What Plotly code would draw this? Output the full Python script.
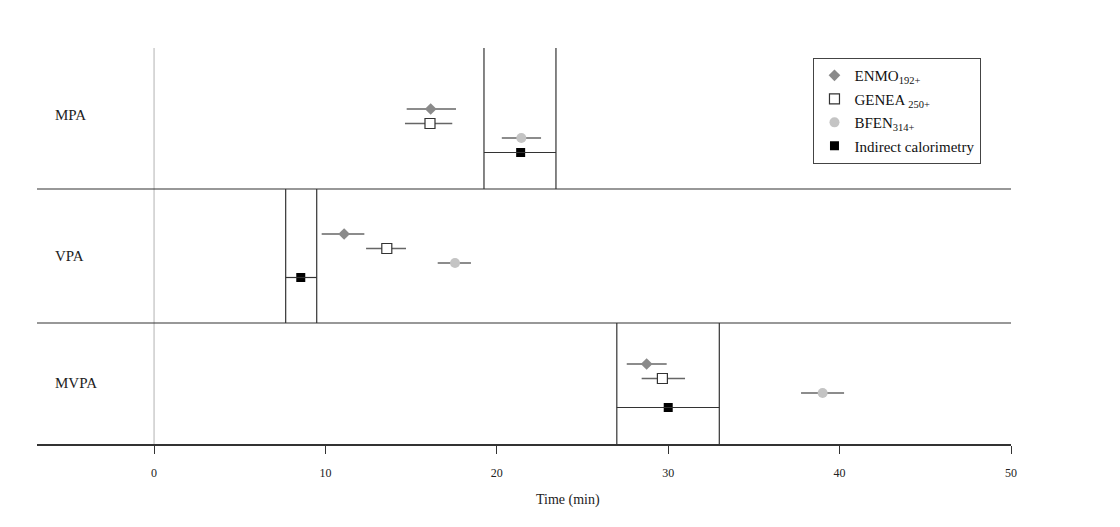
import plotly.graph_objects as go

# ---- data ----
groups = ["MPA", "VPA", "MVPA"]
series = ["ENMO<sub>192+</sub>", "GENEA <sub>250+</sub>", "BFEN<sub>314+</sub>"]
enmo_mean = [16.14, 11.09, 28.74]
enmo_lo = [14.74, 9.78, 27.58]
enmo_hi = [17.62, 12.27, 29.91]
genea_mean = [16.10, 13.58, 29.66]
genea_lo = [14.64, 12.37, 28.45]
genea_hi = [17.40, 14.70, 30.98]
bfen_mean = [21.43, 17.56, 39.01]
bfen_lo = [20.29, 16.55, 37.75]
bfen_hi = [22.58, 18.49, 40.26]
ic_mean = [21.39, 8.56, 30.0]
ic_lo = [19.25, 7.68, 27.0]
ic_hi = [23.45, 9.49, 32.98]
x_ticks = [0, 10, 20, 30, 40, 50]
x_title = "Time (min)"

# ---- layout helpers (vertical positions, top=0) ----
band_edges = [0, 141, 275, 396]
first_row = [61, 186, 316]
step = 14.5
label_y = [67, 208, 335]

FONT = "Liberation Serif, Times New Roman, serif"
fig = go.Figure()

def add_series(name, mean, lo, hi, k, marker):
    ys = [first_row[i] + k * step for i in range(3)]
    fig.add_trace(go.Scatter(
        x=mean, y=ys, mode="markers", name=name, legendgroup=name,
        marker=marker,
        error_x=dict(type="data", symmetric=False,
                     array=[h - m for h, m in zip(hi, mean)],
                     arrayminus=[m - l for m, l in zip(mean, lo)],
                     color="#666666", thickness=1.5, width=0),
    ))

add_series(series[0], enmo_mean, enmo_lo, enmo_hi, 0,
           dict(symbol="diamond", size=9, color="#8a8a8a", line=dict(width=0)))
add_series(series[1], genea_mean, genea_lo, genea_hi, 1,
           dict(symbol="square", size=10, color="white", line=dict(color="#333333", width=1.2)))
add_series(series[2], bfen_mean, bfen_lo, bfen_hi, 2,
           dict(symbol="circle", size=10, color="#c4c4c4", line=dict(width=0)))

# indirect calorimetry boxes
for i in range(3):
    yc = first_row[i] + 3 * step
    top, bot = band_edges[i], band_edges[i + 1]
    for xv in (ic_lo[i], ic_hi[i]):
        fig.add_shape(type="line", x0=xv, x1=xv, y0=top, y1=bot, xref="x", yref="y",
                      line=dict(color="#333333", width=1.2))
    fig.add_shape(type="line", x0=ic_lo[i], x1=ic_hi[i], y0=yc, y1=yc, xref="x", yref="y",
                  line=dict(color="#333333", width=1.2))

fig.add_trace(go.Scatter(
    x=ic_mean, y=[first_row[i] + 3 * step for i in range(3)], mode="markers",
    name="Indirect calorimetry", legendgroup="ic",
    marker=dict(symbol="square", size=9, color="black"),
))

# zero line
fig.add_shape(type="line", x0=0, x1=0, y0=0, y1=396, xref="x", yref="y",
              line=dict(color="#cccccc", width=1.5), layer="below")
# separators
for e in band_edges[1:3]:
    fig.add_shape(type="line", x0=0, x1=1, y0=e, y1=e, xref="paper", yref="y",
                  line=dict(color="#333333", width=1.2))

for g, ly in zip(groups, label_y):
    fig.add_annotation(x=-5.9, y=ly, xref="x", yref="y", text=g, showarrow=False,
                       xanchor="left", yanchor="middle",
                       font=dict(family=FONT, size=15, color="#222222"))

# axis title (off-centre as in the reference)
fig.add_annotation(x=24.15, y=-0.141, xref="x", yref="paper", text=x_title, showarrow=False,
                   xanchor="center", yanchor="middle",
                   font=dict(family=FONT, size=14, color="#222222"))

fig.update_layout(
    width=1120, height=527,
    paper_bgcolor="white", plot_bgcolor="white",
    margin=dict(l=29, r=117, t=40, b=91),
    showlegend=True,
    legend=dict(x=0.797, y=0.975, xanchor="left", yanchor="top",
                bordercolor="#444444", borderwidth=1.2, bgcolor="white",
                font=dict(family=FONT, size=15, color="#111111"),
                itemwidth=30, tracegroupgap=1),
    font=dict(family=FONT, color="#222222"),
)
fig.update_xaxes(range=[-6.83, 50], tickvals=x_ticks, ticks="outside", ticklen=8,
                 tickcolor="#333333", showgrid=False, zeroline=False,
                 showline=True, linecolor="#333333", linewidth=1.5,
                 ticklabelstandoff=9,
                 tickfont=dict(family=FONT, size=12, color="#222222"))
fig.update_yaxes(range=[396, 0], visible=False, showgrid=False, zeroline=False)

fig.write_html("out.html")
